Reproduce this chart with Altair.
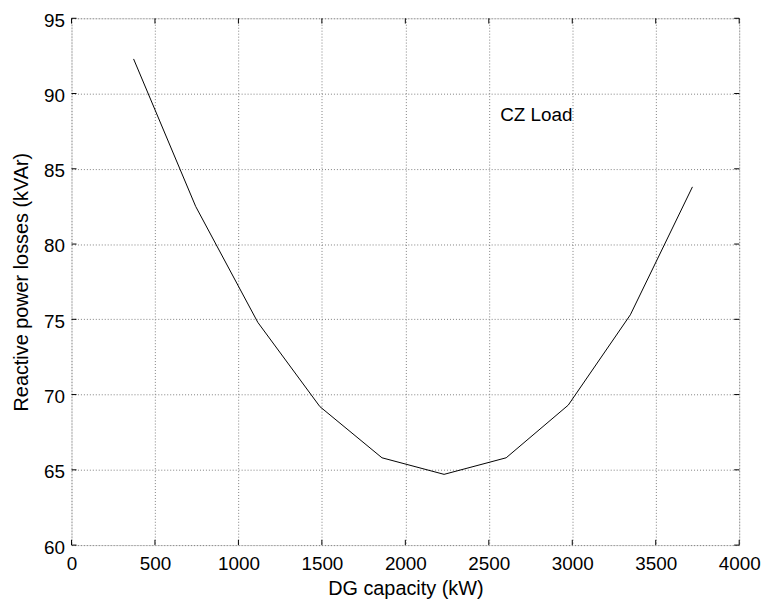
import altair as alt
import pandas as pd

# Data
dg_capacity = [372, 744, 1116, 1488, 1860, 2232, 2604, 2976, 3348, 3720]
reactive_losses = [92.3, 82.5, 74.8, 69.2, 65.8, 64.7, 65.8, 69.3, 75.3, 83.8]

x_ticks = [0, 500, 1000, 1500, 2000, 2500, 3000, 3500, 4000]
y_ticks = [60, 65, 70, 75, 80, 85, 90, 95]

annot_text = ["CZ Load"]
annot_x = [2568]
annot_y = [88.2]

FONT = "Liberation Sans"
W, H = 673, 531

df = pd.DataFrame({"x": dg_capacity, "y": reactive_losses})
ann = pd.DataFrame({"x": annot_x, "y": annot_y, "t": annot_text})

xscale = alt.Scale(domain=[0, 4000], nice=False, zero=False)
yscale = alt.Scale(domain=[60, 95], nice=False, zero=False)

xaxis = alt.Axis(
    values=x_ticks, format="d", title="DG capacity (kW)", grid=True, ticks=False,
    tickSize=0, domain=False, labelFont=FONT, labelFontSize=19, labelColor="black",
    labelPadding=10, titleFont=FONT, titleFontSize=20, titleFontWeight="normal",
    titleColor="black", titleY=50, titleBaseline="alphabetic",
    gridColor="#808080", gridDash=[1, 2], gridOpacity=1, gridWidth=1,
    labelFlush=False,
)
yaxis = alt.Axis(
    values=y_ticks, format="d", title="Reactive power losses (kVAr)", grid=True,
    ticks=False, tickSize=0, domain=False, labelFont=FONT, labelFontSize=19,
    labelColor="black", labelPadding=7, labelOffset=2, titleFont=FONT,
    titleFontSize=20, titleFontWeight="normal", titleColor="black", titleX=-44,
    titleBaseline="alphabetic",
    gridColor="#808080", gridDash=[1, 2], gridOpacity=1, gridWidth=1,
    labelFlush=False,
)

line = alt.Chart(df).mark_line(color="black", strokeWidth=1).encode(
    x=alt.X("x:Q", scale=xscale, axis=xaxis),
    y=alt.Y("y:Q", scale=yscale, axis=yaxis),
)

text = alt.Chart(ann).mark_text(
    align="left", baseline="alphabetic", font=FONT, fontSize=19, color="black"
).encode(x=alt.X("x:Q", scale=xscale), y=alt.Y("y:Q", scale=yscale), text="t:N")

# inward tick marks on all four sides (MATLAB style)
xt = pd.DataFrame({"v": x_ticks})
yt = pd.DataFrame({"v": y_ticks})
tick_bottom = alt.Chart(xt).mark_rule(color="black", strokeWidth=1).encode(
    x=alt.X("v:Q", scale=xscale), y=alt.datum(60), y2=alt.datum(60.35))
tick_top = alt.Chart(xt).mark_rule(color="black", strokeWidth=1).encode(
    x=alt.X("v:Q", scale=xscale), y=alt.datum(95), y2=alt.datum(94.65))
tick_left = alt.Chart(yt).mark_rule(color="black", strokeWidth=1).encode(
    y=alt.Y("v:Q", scale=yscale), x=alt.datum(0), x2=alt.datum(30))
tick_right = alt.Chart(yt).mark_rule(color="black", strokeWidth=1).encode(
    y=alt.Y("v:Q", scale=yscale), x=alt.datum(4000), x2=alt.datum(3970))

chart = alt.layer(line, text, tick_bottom, tick_top, tick_left, tick_right).properties(
    width=W, height=H,
    autosize=alt.AutoSizeParams(type="none"),
    padding={"left": 64, "top": 8, "right": 24, "bottom": 56},
).configure_view(stroke="black", strokeWidth=1.2).configure(background="white")

chart.save("out.html", embed_options={"renderer": "svg", "actions": False})
